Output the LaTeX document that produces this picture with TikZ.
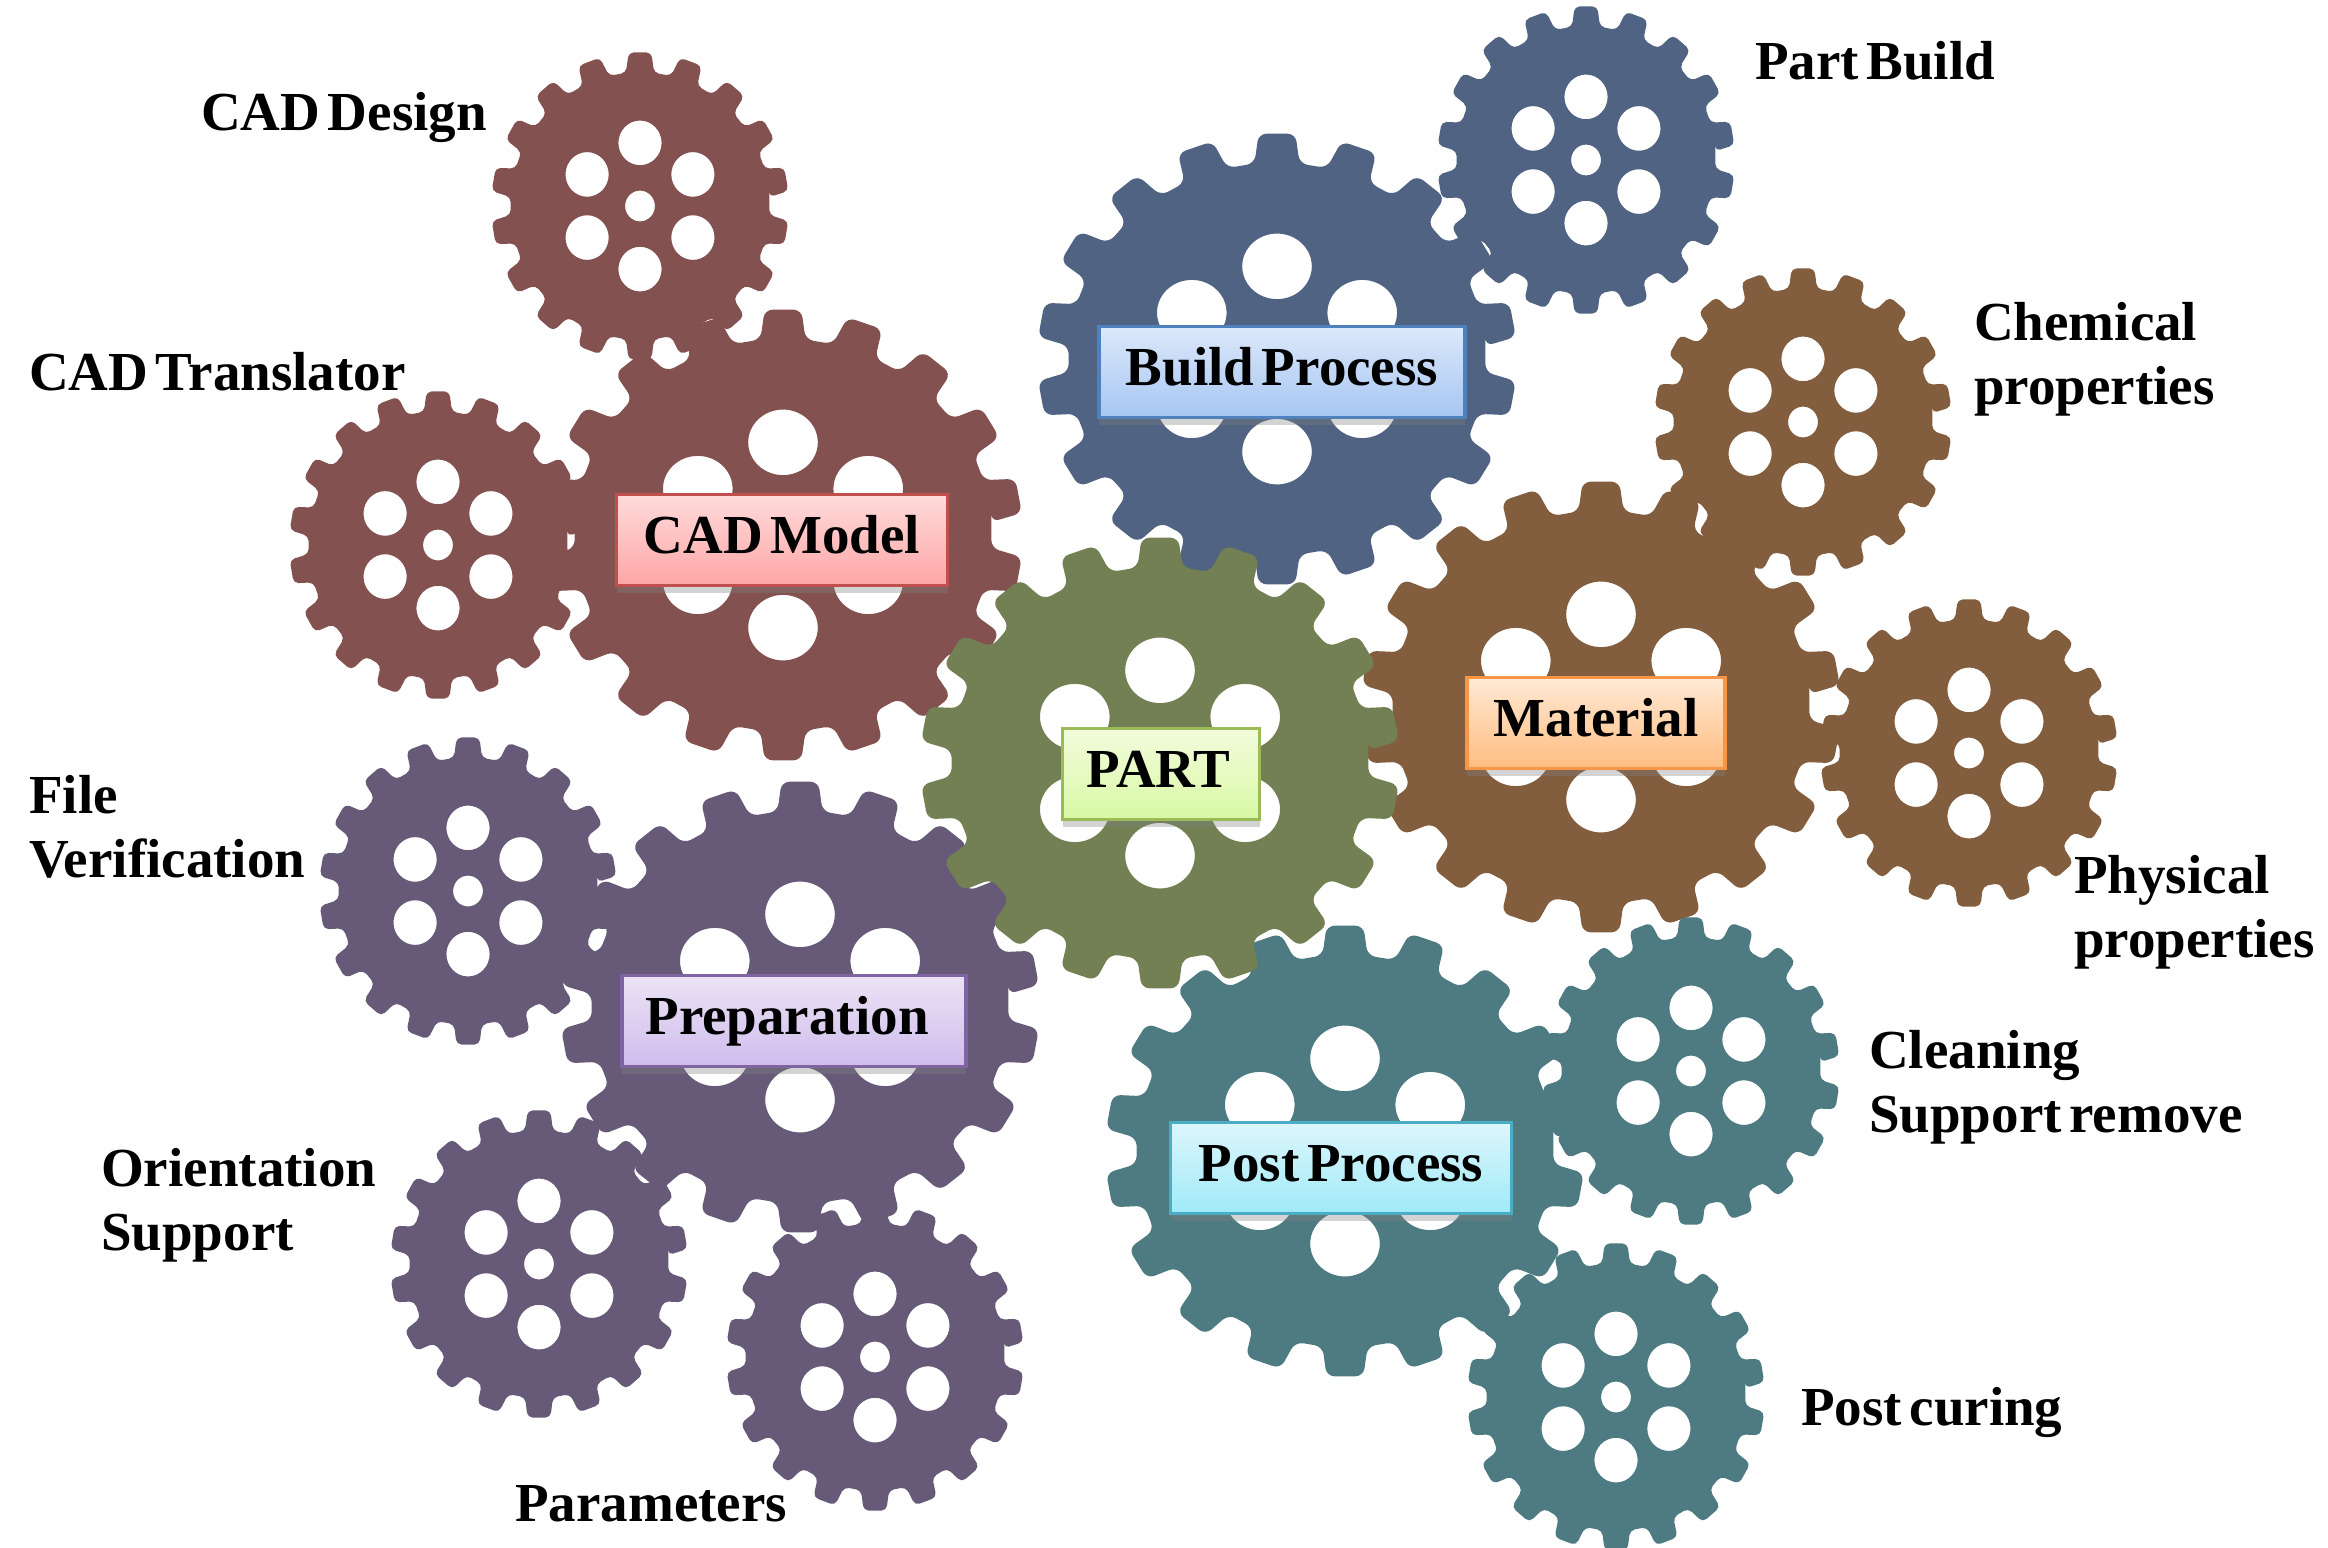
\documentclass[tikz,border=0pt]{standalone}
\usepackage{xcolor}
\usepackage{fontspec}
\setmainfont{Liberation Serif}
\usetikzlibrary{shadows}
\definecolor{gearred}{HTML}{845151}
\definecolor{gearblue}{HTML}{506382}
\definecolor{gearolive}{HTML}{728053}
\definecolor{gearbrown}{HTML}{825E3E}
\definecolor{gearpurple}{HTML}{675A78}
\definecolor{gearteal}{HTML}{4E7A82}
\definecolor{edgered}{HTML}{C0504D}
\definecolor{topred}{HTML}{FFDBDB}
\definecolor{botred}{HTML}{FFA6A6}
\definecolor{edgeblue}{HTML}{4F81BD}
\definecolor{topblue}{HTML}{DCE8FA}
\definecolor{botblue}{HTML}{A6C6F2}
\definecolor{edgegreen}{HTML}{9BBB59}
\definecolor{topgreen}{HTML}{F3FCDC}
\definecolor{botgreen}{HTML}{D8F8A4}
\definecolor{edgeorange}{HTML}{F79646}
\definecolor{toporange}{HTML}{FFE9D5}
\definecolor{botorange}{HTML}{FFBD80}
\definecolor{edgepurple}{HTML}{8064A2}
\definecolor{toppurple}{HTML}{EBE3F4}
\definecolor{botpurple}{HTML}{D0BCEE}
\definecolor{edgeteal}{HTML}{4BACC6}
\definecolor{topteal}{HTML}{DDF6FB}
\definecolor{botteal}{HTML}{A0EAF8}
\newcommand{\lblfont}{\fontsize{55}{64}\selectfont\bfseries\spaceskip.14em\relax}
\tikzset{
  lbl/.style={anchor=west,align=left,inner sep=0pt,font=\lblfont},
  tag/.style={rectangle,draw=edge#1,top color=top#1,bottom color=bot#1,line width=3.5pt,inner sep=0pt,
    minimum height=91pt,text height=42pt,text depth=15pt,font=\lblfont,
    drop shadow={shadow xshift=0pt,shadow yshift=-7pt,opacity=.35}},
}
% gear: x, y, x radius, y radius, colour and corners
\newcommand{\gear}[5]{
\begin{scope}[shift={(#1,#2)},xscale=#3,yscale=#4]
\fill[#5,even odd rule] (356.2:.87)
  \foreach \a in {10,30,...,350} {-- (\a-6.2:.87) -- (\a-4.4:1) -- (\a+4.4:1) -- (\a+6.2:.87)} -- cycle
  (0,0) circle[radius=.1]
  \foreach \a in {30,90,...,330} {(\a:.41) circle[radius=.145]};
\end{scope}
}
\newcommand{\smallgear}[3]{\gear{#1}{#2}{149}{154}{#3,rounded corners=5pt}}
\newcommand{\largegear}[3]{\gear{#1}{#2}{240}{226}{#3,rounded corners=8pt}}
\begin{document}
\begin{tikzpicture}[x=1pt,y=-1pt]
\useasboundingbox (0,0) rectangle (2328,1547);

\smallgear{640}{206}{gearred}
\smallgear{438}{545}{gearred}
\largegear{783}{535}{gearred}

\smallgear{1586}{160}{gearblue}
\largegear{1277}{359}{gearblue}

\smallgear{1803}{422}{gearbrown}
\smallgear{1969}{753}{gearbrown}
\largegear{1601}{707}{gearbrown}

\smallgear{468}{891}{gearpurple}
\smallgear{539}{1264}{gearpurple}
\smallgear{875}{1357}{gearpurple}
\largegear{800}{1007}{gearpurple}

\smallgear{1691}{1071}{gearteal}
\smallgear{1616}{1397}{gearteal}
\largegear{1345}{1151}{gearteal}

\largegear{1160}{763}{gearolive}

\node[tag=red,minimum width=331pt] (cadmodel) at (782,540) {CAD Model};
\node[tag=blue,minimum width=366pt] (buildprocess) at (1282,372) {Build Process};
\node[tag=green,minimum width=197pt] (part) at (1161,774) {PART\kern5pt};
\node[tag=orange,minimum width=258pt] (material) at (1596,723) {Material};
\node[tag=purple,minimum width=344pt] (preparation) at (794,1021) {Preparation\kern14pt};
\node[tag=teal,minimum width=341pt] (postprocess) at (1341,1168) {Post Process};

\node[lbl] (caddesign) at (201,117) {CAD Design};
\node[lbl] (cadtranslator) at (29,372) {CAD Translator};
\node[lbl] (fileverif) at (29,827) {File\\Verification};
\node[lbl] (orientation) at (101,1205) {Orientation\\Support};
\node[lbl] (parameters) at (515,1504) {Parameters};
\node[lbl] (partbuild) at (1755,61) {Part Build};
\node[lbl] (chemical) at (1974,359) {Chemical\\properties};
\node[lbl] (physical) at (2074,912) {Physical\\properties};
\node[lbl] (cleaning) at (1869,1087) {Cleaning\\Support remove};
\node[lbl] (postcuring) at (1801,1412) {Post curing};
\end{tikzpicture}
\end{document}
